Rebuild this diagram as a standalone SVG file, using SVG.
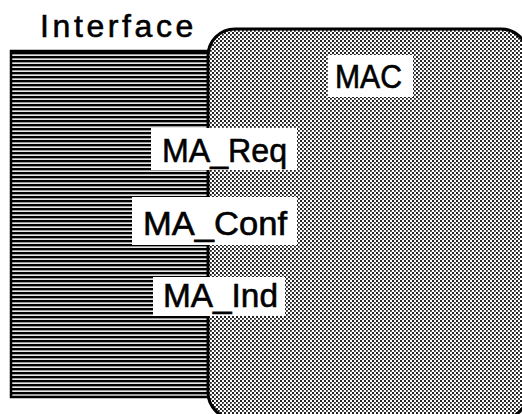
<svg xmlns="http://www.w3.org/2000/svg" width="522" height="414" viewBox="0 0 522 414">
  <defs>
    <pattern id="hatch" x="0" y="0" width="8" height="4" patternUnits="userSpaceOnUse">
      <rect x="0" y="0" width="8" height="4" fill="#000"/>
      <rect x="0" y="2.4" width="8" height="1.5" fill="#fff"/>
    </pattern>
    <pattern id="dots" x="0" y="0" width="4" height="4" patternUnits="userSpaceOnUse">
      <rect x="0" y="0" width="4" height="4" fill="#fff"/>
      <rect x="0" y="0" width="2" height="2" fill="#222"/>
      <rect x="2" y="2" width="1.8" height="1.8" fill="#222"/>
    </pattern>
    <style>
      text { font-family: "Liberation Sans", Arial, sans-serif; fill: #000; stroke: #000; stroke-width: 0.6; }
      .lbl { font-size: 34px; }
      .box { fill: #fff; stroke: none; }
    </style>
  </defs>
  <rect width="522" height="414" fill="#fff"/>

  <g id="interface">
    <rect x="11" y="51" width="200" height="346" fill="url(#hatch)" stroke="#000" stroke-width="2.5"/>
    <text x="40" y="37" font-size="32" letter-spacing="3.6">Interface</text>
  </g>

  <g id="mac">
    <rect x="208" y="29" width="320" height="390" rx="27" ry="27" fill="url(#dots)" stroke="#000" stroke-width="3"/>
    <rect class="box" x="328" y="55" width="85" height="42"/>
    <text class="lbl" x="335" y="88" textLength="67" lengthAdjust="spacingAndGlyphs">MAC</text>
  </g>

  <g id="ma_req">
    <rect class="box" x="151" y="128" width="146" height="42"/>
    <text class="lbl" x="162" y="162" textLength="125" lengthAdjust="spacingAndGlyphs">MA_Req</text>
  </g>

  <g id="ma_conf">
    <rect class="box" x="132" y="197" width="165" height="48"/>
    <text class="lbl" x="143" y="235" textLength="144" lengthAdjust="spacingAndGlyphs">MA_Conf</text>
  </g>

  <g id="ma_ind">
    <rect class="box" x="153" y="277" width="132" height="39"/>
    <text class="lbl" x="163" y="307" textLength="115" lengthAdjust="spacingAndGlyphs">MA_Ind</text>
  </g>

  <g id="connectors"/>
</svg>
